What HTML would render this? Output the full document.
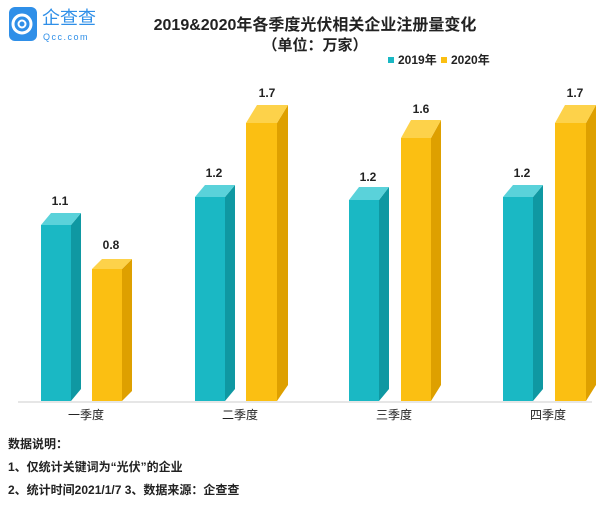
<!DOCTYPE html>
<html><head><meta charset="utf-8"><style>
body{margin:0;background:#fff;width:600px;height:503px;overflow:hidden;font-family:"Liberation Sans","Noto Sans CJK SC",sans-serif;}
</style></head><body>
<svg width="600" height="503" xmlns="http://www.w3.org/2000/svg" font-family="Liberation Sans, Noto Sans CJK SC, sans-serif">
<rect x="9" y="7" width="28" height="34" rx="6" fill="#2f8fe8"/>
<circle cx="22" cy="24" r="9" fill="none" stroke="#fff" stroke-width="3"/>
<circle cx="22" cy="24" r="3.5" fill="none" stroke="#fff" stroke-width="2"/>
<text x="42" y="24" font-size="18" fill="#2f8fe8">企查查</text>
<text x="43" y="40" font-size="9" fill="#2f8fe8" letter-spacing="1.5">Qcc.com</text>
<text x="315" y="30" font-size="16" font-weight="bold" text-anchor="middle" fill="#222">2019&amp;2020年各季度光伏相关企业注册量变化</text>
<text x="315" y="50" font-size="15" font-weight="bold" text-anchor="middle" fill="#222">（单位：万家）</text>
<rect x="388" y="57" width="6" height="6" fill="#1ab8c4"/>
<text x="398" y="64" font-size="12" font-weight="bold" fill="#222">2019年</text>
<rect x="441" y="57" width="6" height="6" fill="#fbbf12"/>
<text x="451" y="64" font-size="12" font-weight="bold" fill="#222">2020年</text>
<line x1="18" y1="402" x2="592" y2="402" stroke="#ccc" stroke-width="1"/>

<rect x="41" y="225" width="30" height="176" fill="#1ab8c4"/>
<polygon points="71,225 81,213 81,389 71,401" fill="#0f98a2"/>
<polygon points="41,225 51,213 81,213 71,225" fill="#5ad2da"/>

<rect x="92" y="269" width="30" height="132" fill="#fbbf12"/>
<polygon points="122,269 132,259 132,391 122,401" fill="#dea000"/>
<polygon points="92,269 102,259 132,259 122,269" fill="#fdd24a"/>

<rect x="195" y="197" width="30" height="204" fill="#1ab8c4"/>
<polygon points="225,197 235,185 235,389 225,401" fill="#0f98a2"/>
<polygon points="195,197 205,185 235,185 225,197" fill="#5ad2da"/>

<rect x="246" y="123" width="31" height="278" fill="#fbbf12"/>
<polygon points="277,123 288,105 288,385 277,401" fill="#dea000"/>
<polygon points="246,123 257,105 288,105 277,123" fill="#fdd24a"/>

<rect x="349" y="200" width="30" height="201" fill="#1ab8c4"/>
<polygon points="379,200 389,187 389,389 379,401" fill="#0f98a2"/>
<polygon points="349,200 359,187 389,187 379,200" fill="#5ad2da"/>

<rect x="401" y="138" width="30" height="263" fill="#fbbf12"/>
<polygon points="431,138 441,120 441,385 431,401" fill="#dea000"/>
<polygon points="401,138 411,120 441,120 431,138" fill="#fdd24a"/>

<rect x="503" y="197" width="30" height="204" fill="#1ab8c4"/>
<polygon points="533,197 543,185 543,389 533,401" fill="#0f98a2"/>
<polygon points="503,197 513,185 543,185 533,197" fill="#5ad2da"/>

<rect x="555" y="123" width="31" height="278" fill="#fbbf12"/>
<polygon points="586,123 596,105 596,385 586,401" fill="#dea000"/>
<polygon points="555,123 565,105 596,105 586,123" fill="#fdd24a"/>

<g font-size="12" font-weight="bold" fill="#222" text-anchor="middle">
<text x="60" y="205">1.1</text><text x="111" y="249">0.8</text>
<text x="214" y="177">1.2</text><text x="267" y="97">1.7</text>
<text x="368" y="181">1.2</text><text x="421" y="113">1.6</text>
<text x="522" y="177">1.2</text><text x="575" y="97">1.7</text>
</g>
<g font-size="12" fill="#222" text-anchor="middle">
<text x="86" y="419">一季度</text><text x="240" y="419">二季度</text><text x="394" y="419">三季度</text><text x="548" y="419">四季度</text>
</g>
<g font-size="12" font-weight="bold" fill="#222">
<text x="8" y="448">数据说明：</text>
<text x="8" y="471">1、仅统计关键词为“光伏”的企业</text>
<text x="8" y="494">2、统计时间2021/1/7  3、数据来源：企查查</text>
</g>
</svg>
</body></html>
